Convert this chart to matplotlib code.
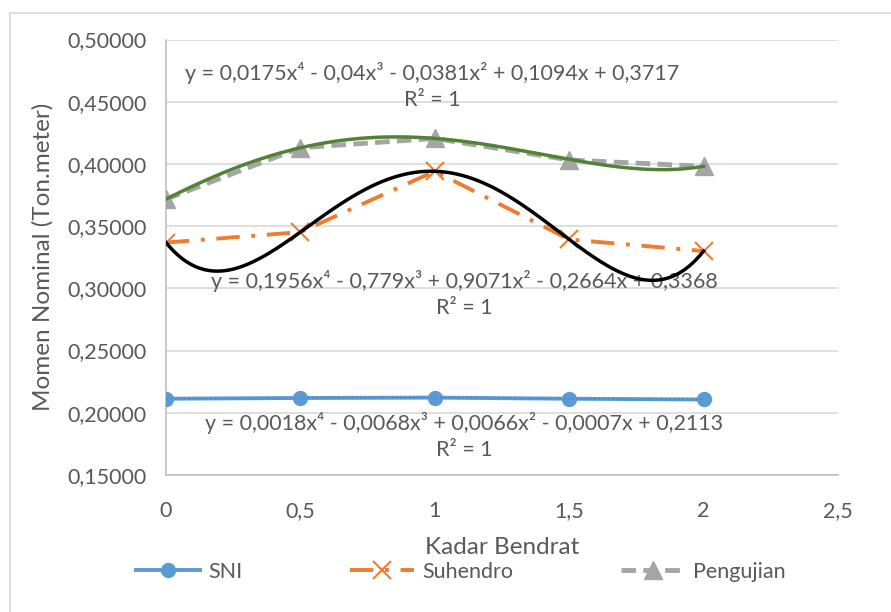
import numpy as np
import matplotlib
matplotlib.use("Agg")
import matplotlib.pyplot as plt
from matplotlib.ticker import FuncFormatter
from matplotlib.patches import Rectangle

plt.rcParams['font.family'] = ['Lato', 'DejaVu Sans']

# data
kadar = [0, 0.5, 1, 1.5, 2]
sni = [0.2113, 0.2119, 0.2122, 0.2113, 0.2107]
suhendro = [0.3368, 0.3452, 0.3941, 0.3393, 0.3300]
pengujian = [0.3717, 0.4130, 0.4205, 0.4032, 0.3981]

# trendline coefficients as printed on the chart (x^4 ... x^0)
coef_sni = [0.0018, -0.0068, 0.0066, -0.0007, 0.2113]
coef_suh = [0.1956, -0.779, 0.9071, -0.2664, 0.3368]
coef_pen = [0.0175, -0.04, -0.0381, 0.1094, 0.3717]

eq_sni = "y = 0,0018x⁴ - 0,0068x³ + 0,0066x² - 0,0007x + 0,2113\nR² = 1"
eq_suh = "y = 0,1956x⁴ - 0,779x³ + 0,9071x² - 0,2664x + 0,3368\nR² = 1"
eq_pen = "y = 0,0175x⁴ - 0,04x³ - 0,0381x² + 0,1094x + 0,3717\nR² = 1"

txt = "#595959"
fs = 15.5
fig = plt.figure(figsize=(8.91, 6.12), dpi=100)
ax = fig.add_axes([166/891, 1-475/612, (838-166)/891, (475-39.5)/612])

# chart border (left/top visible only)
fig.patches.append(Rectangle((10/891, -0.1), 1.2, 1 - 13/612 + 0.1, transform=fig.transFigure,
                             fill=False, edgecolor="#D9D9D9", linewidth=1.2))

xs = np.linspace(0, 2, 300)

ax.plot(kadar, sni, color="#5B9BD5", lw=2.8, marker="o", ms=10, label="SNI", zorder=3)
ax.plot(kadar, suhendro, color="#ED7D31", lw=2.8, ls=(0, (6, 3, 1, 3)), marker="x", ms=13,
        mew=1.5, label="Suhendro", zorder=3)
ax.plot(kadar, pengujian, color="#A5A5A5", lw=3.5, ls=(0, (3, 1.5)), marker="^", ms=13,
        label="Pengujian", zorder=3)

ax.plot(xs, np.polyval(coef_sni, xs), color="#4A86C5", lw=1.2, ls=":", zorder=4)
ax.plot(xs, np.polyval(coef_suh, xs), color="black", lw=2.5, zorder=4)
ax.plot(xs, np.polyval(coef_pen, xs), color="#548235", lw=2.5, zorder=4)

ax.set_xlim(0, 2.5)
ax.set_ylim(0.15, 0.5)
ax.set_xticks(np.arange(0, 2.51, 0.5))
ax.set_yticks(np.arange(0.15, 0.501, 0.05))
ax.xaxis.set_major_formatter(FuncFormatter(lambda v, p: ("%g" % v).replace(".", ",")))
ax.yaxis.set_major_formatter(FuncFormatter(lambda v, p: ("%.5f" % v).replace(".", ",")))
ax.tick_params(length=0, labelsize=fs, colors=txt)
ax.tick_params(axis="y", pad=14)
ax.tick_params(axis="x", pad=19)
ax.grid(axis="y", color="#D9D9D9", lw=1.2)
ax.set_axisbelow(True)
for s in ["top", "right"]:
    ax.spines[s].set_visible(False)
for s in ["left", "bottom"]:
    ax.spines[s].set_color("#BFBFBF")
    ax.spines[s].set_linewidth(1.2)

ax.set_xlabel("Kadar Bendrat", fontsize=17.5, color=txt)
ax.set_ylabel("Momen Nominal (Ton.meter)", fontsize=17.5, color=txt)
ax.xaxis.set_label_coords(0.5, -(548 - 475) / (475 - 39.5))
ax.yaxis.set_label_coords(-(166 - 43) / (838 - 166), 0.5)
ax.xaxis.label.set_va("center")
ax.yaxis.label.set_va("center")

ax.text(0.99, 0.4625, eq_pen, ha="center", va="center", fontsize=fs, color=txt, linespacing=1.35)
ax.text(1.11, 0.2955, eq_suh, ha="center", va="center", fontsize=fs, color=txt, linespacing=1.35)
ax.text(1.11, 0.1815, eq_sni, ha="center", va="center", fontsize=fs, color=txt, linespacing=1.35)

fig.legend(loc="center", bbox_to_anchor=(0.517, 1 - 572/612), ncol=3, frameon=False,
           fontsize=fs, labelcolor=txt, handlelength=3.0, columnspacing=5.0, handletextpad=0.35)

fig.savefig("out.png", dpi=100)
